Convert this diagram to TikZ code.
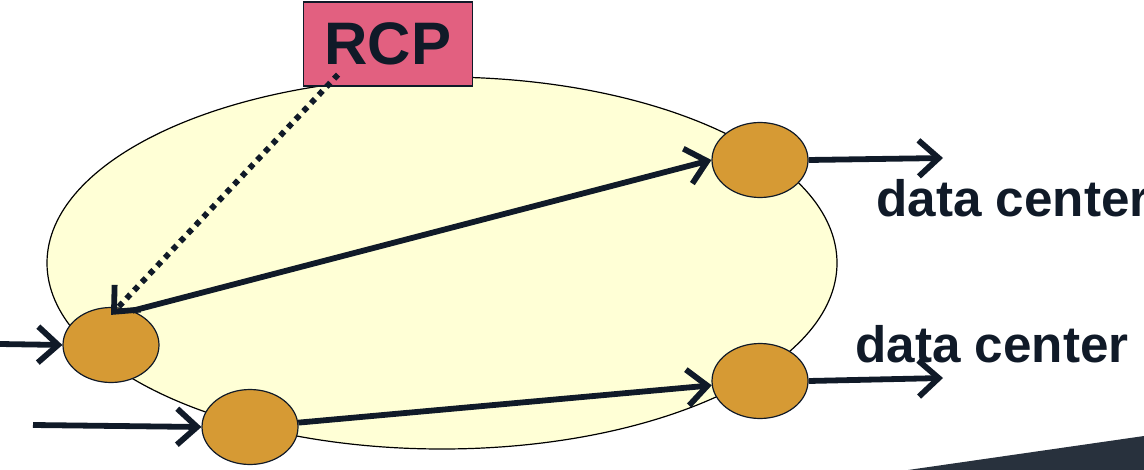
\documentclass[tikz,border=0pt]{standalone}
\usepackage{fontspec}
\setmainfont{Liberation Sans}
\usepackage{xcolor}
\usepackage{tikz}
\definecolor{ringyellow}{RGB}{255, 255, 214}
\definecolor{routerorange}{RGB}{214, 154, 52}
\definecolor{rcppink}{RGB}{226, 96, 128}
\definecolor{inkblue}{RGB}{16, 26, 40}
\usetikzlibrary{shapes.geometric, arrows.meta, positioning}

\begin{document}
\begin{tikzpicture}[
        x=0.5pt, y=-0.5pt,
        every node/.style={font=\bfseries},
        router/.style={ellipse, minimum width=48pt, minimum height=37.5pt, inner sep=0pt, draw=inkblue, line width=0.6pt, fill=routerorange},
        ctrlbox/.style={rectangle, minimum width=84.5pt, minimum height=42pt, draw=inkblue, line width=0.6pt, fill=rcppink, font=\fontsize{30}{32}\bfseries\selectfont},
        label/.style={anchor=base west, inner sep=0pt, text=inkblue, font=\fontsize{25.6}{27}\bfseries\selectfont},
        arrow/.style={line width=2.9pt, color=inkblue, -{Straight Barb[length=10pt, width=18pt]}},
        ctrl/.style={arrow, dash pattern=on 2.8pt off 2.8pt}
    ]
        \useasboundingbox (0,0) rectangle (1144,470);

        % slide corner
        \fill[inkblue!90] (908,470) -- (1144,436) -- (1144,470) -- cycle;

        % network
        \draw[line width=0.6pt, fill=ringyellow] (442,263) ellipse [x radius=197.5pt, y radius=93pt];

        \node[ctrlbox] (rcp) at (388,44) {\textcolor{inkblue}{RCP}};

        \node[router] (in1) at (111,345) {};
        \node[router] (in2) at (250,427) {};
        \node[router] (out1) at (760,160) {};
        \node[router] (out2) at (760,381) {};

        \coordinate (src1) at (0,344);
        \coordinate (src2) at (33,425);
        \coordinate (dst1) at (943,158);
        \coordinate (dst2) at (943,378);

        \node[label] (dc1) at (876,216) {data center};
        \node[label] (dc2) at (855,362) {data center};

        \draw[arrow] (src1) -- (in1.west);
        \draw[arrow] (src2) -- (in2.west);
        \draw[arrow] (in1.58) -- (out1.west);
        \draw[arrow] (in2) -- (out2);
        \draw[arrow] (out1.east) -- (dst1);
        \draw[arrow] (out2.east) -- (dst2);
        \draw[ctrl] ([xshift=-25pt, yshift=6pt]rcp.south) -- ([yshift=-4pt]in1.north);

    \end{tikzpicture}
\end{document}
